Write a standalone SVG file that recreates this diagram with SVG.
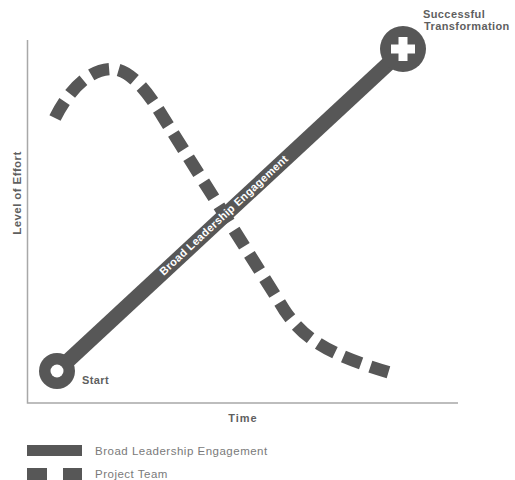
<svg xmlns="http://www.w3.org/2000/svg" width="515" height="480" viewBox="0 0 515 480">
<style>
.lbl{font-family:"Liberation Sans",Arial,sans-serif;font-weight:bold;fill:#5f5f5f;font-size:11px;letter-spacing:0.4px}
.leg{font-family:"Liberation Sans",Arial,sans-serif;fill:#7a7a7a;font-size:11.5px;letter-spacing:0.5px}
.axis{stroke:#a8a8a8;stroke-width:1.5;fill:none}
.dark{fill:#575757}
</style>
<rect width="515" height="480" fill="#fff"/>
<g id="axes">
<path class="axis" d="M27.5,40 V403 H458"/>
<text class="lbl" transform="translate(21,193) rotate(-90)" text-anchor="middle" style="font-size:11.5px">Level of Effort</text>
<text class="lbl" x="243" y="422" text-anchor="middle" style="letter-spacing:1px">Time</text>
</g>
<g id="connectors">
<path id="project-team" d="M55,118 C68,92 88,69 112,69 C130,69 148,92 163,117 C190,160 250,255 285,311 C305,340 330,355 391,373" fill="none" stroke="#575757" stroke-width="12.5" stroke-dasharray="19 9.5"/>
<line id="leadership" x1="57" y1="371" x2="403" y2="50" stroke="#575757" stroke-width="15"/>
<text transform="translate(223.5,215) rotate(-42.85)" y="4" text-anchor="middle" style="font-family:'Liberation Sans',Arial,sans-serif;font-weight:bold;font-size:11px;fill:#fff;letter-spacing:0.3px">Broad Leadership Engagement</text>
</g>
<g id="start">
<circle class="dark" cx="57" cy="371" r="18"/>
<circle cx="57" cy="371" r="6.5" fill="#fff"/>
<text class="lbl" x="82" y="384">Start</text>
</g>
<g id="end">
<circle class="dark" cx="403" cy="49" r="23"/>
<rect x="391" y="44.5" width="24" height="9" fill="#fff"/>
<rect x="398.5" y="37" width="9" height="24" fill="#fff"/>
<text class="lbl" x="423" y="18.3">Successful</text>
<text class="lbl" x="424" y="30">Transformation</text>
</g>
<g id="legend">
<rect class="dark" x="27" y="445" width="55" height="11"/>
<text class="leg" x="95" y="455">Broad Leadership Engagement</text>
<rect class="dark" x="27" y="468" width="20" height="12"/>
<rect class="dark" x="63" y="468" width="19" height="12"/>
<text class="leg" x="95" y="478">Project Team</text>
</g>
</svg>
